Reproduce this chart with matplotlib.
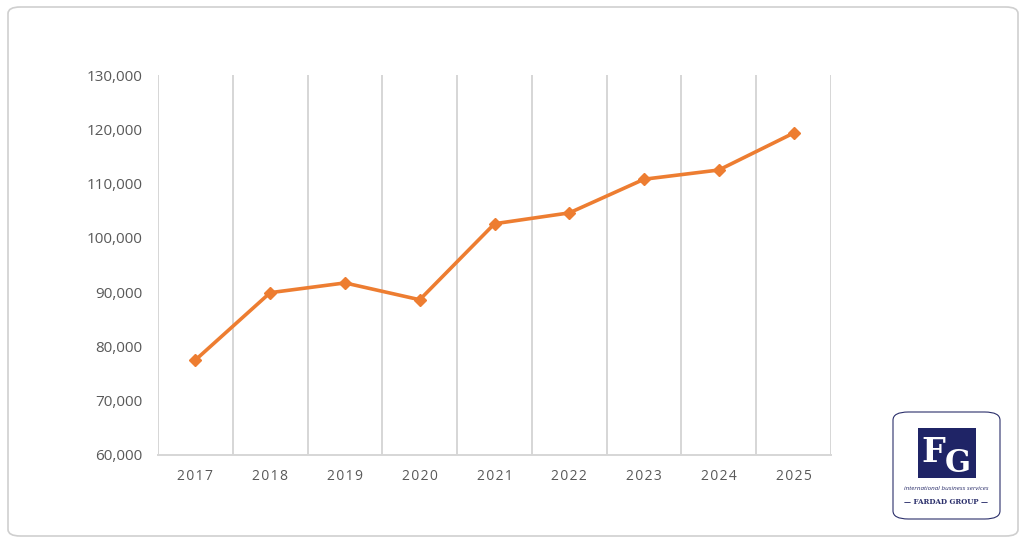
import matplotlib.pyplot as plt
from matplotlib.patches import FancyBboxPatch, Rectangle
from matplotlib.ticker import FuncFormatter

years = ['2017', '2018', '2019', '2020', '2021', '2022', '2023', '2024', '2025']
values = [77500, 89900, 91700, 88600, 102600, 104600, 110800, 112500, 119300]
y_ticks = [60000, 70000, 80000, 90000, 100000, 110000, 120000, 130000]

plt.rcParams['font.family'] = ['Open Sans', 'DejaVu Sans']

fig = plt.figure(figsize=(10.24, 5.44), dpi=100)
fig.patch.set_facecolor('white')

# outer rounded frame (outline only so it does not hide the axes)
frame = FancyBboxPatch((8 / 1024, 8 / 544), 1010 / 1024, 529 / 544,
                       boxstyle='round,pad=0,rounding_size=0.012',
                       transform=fig.transFigure, facecolor='none',
                       edgecolor='#CFCFCF', linewidth=1.2)
fig.patches.append(frame)

ax = fig.add_axes([158 / 1024, 1 - 455 / 544, 673 / 1024, 380 / 544])
ax.set_facecolor('none')

x = list(range(len(years)))
ax.plot(x, values, color='#ED7D31', linewidth=2.6, marker='D', markersize=6,
        markerfacecolor='#ED7D31', markeredgecolor='#ED7D31', zorder=3,
        clip_on=False)

ax.set_xlim(-0.5, len(years) - 0.5)
ax.set_ylim(60000, 130000)
ax.set_yticks(y_ticks)
ax.yaxis.set_major_formatter(FuncFormatter(lambda v, p: f'{int(v):,}'))
ax.set_xticks(x)
# spaced-out year labels, like the original
ax.set_xticklabels(['\u200a'.join(y) for y in years])

# vertical gridlines between categories
for b in [i - 0.5 for i in range(len(years) + 1)]:
    ax.axvline(b, color='#D6D6D6', linewidth=1.4, zorder=1)

for s in ['top', 'right', 'left']:
    ax.spines[s].set_visible(False)
ax.spines['bottom'].set_color('#D6D6D6')
ax.spines['bottom'].set_linewidth(1.4)

ax.tick_params(axis='both', length=0, colors='#595959')
ax.tick_params(axis='y', labelsize=11, pad=11)
ax.tick_params(axis='x', labelsize=10, pad=10)

# logo in the bottom right corner
lx, ly, lw, lh = 893 / 1024, 1 - 519 / 544, 107 / 1024, 107 / 544
logo = FancyBboxPatch((lx, ly), lw, lh, boxstyle='round,pad=0,rounding_size=0.015',
                      transform=fig.transFigure, facecolor='white',
                      edgecolor='#2B2F6B', linewidth=0.8)
fig.patches.append(logo)
fig.patches.append(Rectangle((918 / 1024, 1 - 478 / 544), 58 / 1024, 50 / 544,
                             transform=fig.transFigure, facecolor='#1F2466',
                             edgecolor='none'))
fig.text(933 / 1024, 1 - 453 / 544, 'F', transform=fig.transFigure, color='white',
         fontsize=24, fontweight='bold', ha='center', va='center', family='DejaVu Serif')
fig.text(958 / 1024, 1 - 463 / 544, 'G', transform=fig.transFigure, color='white',
         fontsize=22, fontweight='bold', ha='center', va='center', family='DejaVu Serif')
fig.text(946 / 1024, 1 - 488 / 544, 'international business services',
         transform=fig.transFigure, color='#2B2F6B', fontsize=4.5,
         style='italic', ha='center', va='center')
fig.text(946 / 1024, 1 - 502 / 544, '— FARDAD GROUP —', transform=fig.transFigure,
         color='#2B2F6B', fontsize=5, fontweight='bold', ha='center', va='center',
         family='DejaVu Serif')

fig.savefig('out.png', dpi=100, facecolor='white')
